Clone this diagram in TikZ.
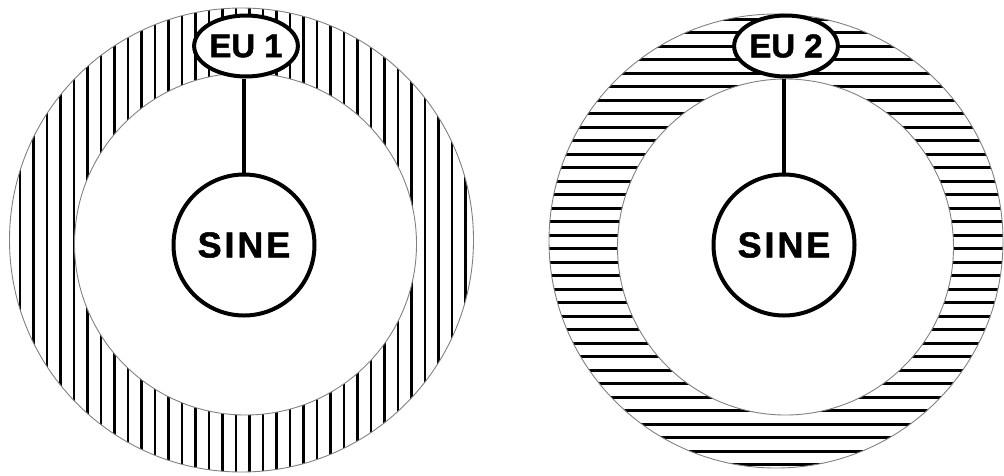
\documentclass[tikz,border=0pt]{standalone}
\usepackage{fontspec}
\setmainfont{Liberation Sans}
\usetikzlibrary{shapes.geometric}
\begin{document}
\begin{tikzpicture}[x=1pt,y=-1pt,
  ringedge/.style={draw=black!50, line width=0.9pt},
  hatch/.style={line width=2.9pt, black},
  eu/.style={ellipse, draw, line width=4pt, fill=white, minimum width=94pt, minimum height=61pt, inner sep=0pt, font=\bfseries\fontsize{33}{33}\selectfont\addfontfeature{FakeBold=1.4}},
  sine/.style={circle, draw, line width=4pt, fill=white, minimum size=141pt, inner sep=0pt, font=\bfseries\fontsize{36}{36}\selectfont\addfontfeature{LetterSpace=8,FakeBold=1.4}},
  link/.style={line width=4pt}]
\useasboundingbox (0,0) rectangle (1004,475);
% left ring, vertical hatching
\begin{scope}[even odd rule]
  \clip (241.5,240) circle (232pt) (245.5,244) circle (171pt);
  \foreach \i in {0,...,36} \draw[hatch] ({155-13.5*11+13.5*\i},0) -- ++(0,475);
\end{scope}
\draw[ringedge] (241.5,240) circle (232pt);
\draw[ringedge] (245.5,244) circle (171pt);
% right ring, horizontal hatching
\begin{scope}[even odd rule]
  \clip (776,241) circle (227pt) (785.5,247) circle (168pt);
  \foreach \i in {0,...,36} \draw[hatch] (540,{154.3-13.5*11+13.5*\i}) -- ++(470,0);
\end{scope}
\draw[ringedge] (776,241) circle (227pt);
\draw[ringedge] (785.5,247) circle (168pt);
% nodes
\node[sine] (s1) at (244,245) {SINE};
\node[sine] (s2) at (784,245) {SINE};
\node[eu] (eu1) at (246,46) {EU 1};
\node[eu] (eu2) at (786,46) {EU 2};
\draw[link] (s1.north) -- (s1.north |- eu1.south);
\draw[link] (s2.north) -- (s2.north |- eu2.south);
\end{tikzpicture}
\end{document}
